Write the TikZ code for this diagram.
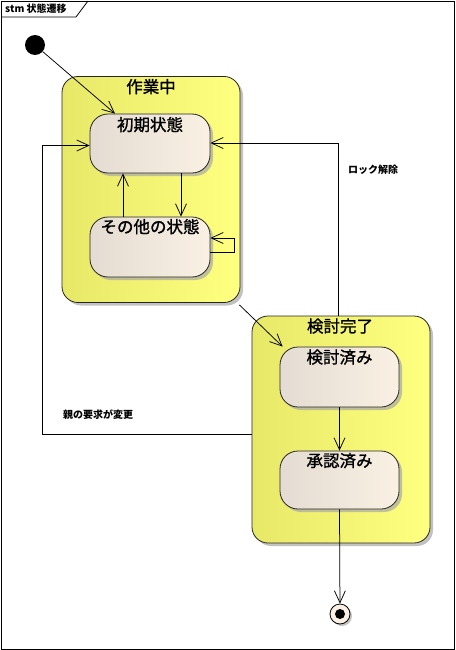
\documentclass[tikz,border=0pt]{standalone}
\usepackage{fontspec}
\setmainfont{Noto Sans CJK JP}
\newfontfamily\heavyjp[FakeBold=1.2]{Noto Sans CJK JP}
\usetikzlibrary{arrows.meta,shadows,calc}
\definecolor{ylL}{HTML}{E8E868}
\definecolor{ylR}{HTML}{FFFF80}
\definecolor{stL}{HTML}{E4DCD2}
\definecolor{stR}{HTML}{FAF1E4}
\definecolor{shd}{HTML}{A8A8A8}
\tikzset{
  comp/.style={draw=black!85, line width=0.8pt, rounded corners=16pt,
    left color=ylL, middle color=ylR, right color=ylR,
    drop shadow={shadow xshift=3pt, shadow yshift=-3pt, fill=shd, opacity=0.7},
    inner sep=0pt},
  stbox/.style={draw=black!85, line width=0.8pt, rounded corners=18pt,
    left color=stL, middle color=stR, right color=stR,
    drop shadow={shadow xshift=3pt, shadow yshift=-3pt, fill=shd, opacity=0.7},
    inner sep=0pt, minimum width=120pt, minimum height=59pt},
  ttl/.style={font=\heavyjp\fontsize{16.5}{18}\selectfont, inner sep=0pt},
  lbl/.style={font=\fontsize{10}{12}\selectfont\bfseries, inner sep=0pt},
  tr/.style={line width=0.75pt, -{Straight Barb[length=12pt,width=11pt,line width=0.75pt]}},
}
\begin{document}
\begin{tikzpicture}[x=1pt,y=-1pt]
\useasboundingbox (0,0) rectangle (455,650);
% frame
\draw[line width=0.8pt] (1,1) rectangle (454,649);
\draw[line width=0.8pt] (1,17) -- (76,17) -- (88,1);
\node[lbl, anchor=west] (frametitle) at (5,9) {stm 状態遷移};

% composite states
\node[comp, minimum width=178pt, minimum height=226pt] (c1) at (151,189.5) {};
\node[ttl] (c1t) at ($(c1.north)+(0,10.5)$) {作業中};
\node[comp, minimum width=178pt, minimum height=227pt] (c2) at (341,429.5) {};
\node[ttl] (c2t) at ($(c2.north)+(-1,10.5)$) {検討完了};

% simple states
\node[stbox] (s1) at (150,143.5) {};
\node[ttl] (s1t) at ($(s1.north)+(0,11)$) {初期状態};
\node[stbox, minimum height=60pt] (s2) at (150,247) {};
\node[ttl] (s2t) at ($(s2.north)+(0,10)$) {その他の状態};
\node[stbox, minimum width=119pt, minimum height=60pt] (s3) at (339.5,377) {};
\node[ttl] (s3t) at ($(s3.north)+(0,10.5)$) {検討済み};
\node[stbox, minimum width=119pt, minimum height=58pt] (s4) at (339.5,480) {};
\node[ttl] (s4t) at ($(s4.north)+(0,10)$) {承認済み};

% pseudo states
\node[circle, fill=black, minimum size=20pt, inner sep=0pt] (init) at (35,45) {};
\node[circle, draw=black, line width=0.8pt, fill=stR, minimum size=20pt, inner sep=0pt,
  drop shadow={shadow xshift=2pt, shadow yshift=-2pt, fill=shd, opacity=0.7}] (fin) at (340,614) {};
\node[circle, fill=black, minimum size=10pt, inner sep=0pt] (fincore) at (fin) {};

% transitions
\draw[tr] (init) -- ($(s1.north)+(-35,0)$);
\draw[tr] ($(s1.south)+(31,0)$) -- ($(s2.north)+(31,0)$);
\draw[tr] ($(s2.north)+(-27,0)$) -- ($(s1.south)+(-27,0)$);
\draw[tr] ($(s2.east)+(0,5)$) -- ++(24,0) -- ++(0,-14) -- ($(s2.east)+(0,-9)$);
\draw[tr] ($(c1.south east)+(-1,2)$) -- ($(s3.north west)+(3,0)$);
\draw[tr] (s3.south) -- (s4.north);
\draw[tr] (s4.south) -- (fin);
\draw[tr] ($(c2.north)+(-3,0)$) |- ($(s1.east)+(0,-0.5)$);
\node[lbl] (lk) at (373,170) {ロック解除};
\coordinate (p1) at (42,434);
\draw[tr] (c2.west |- p1) -- (p1) |- ($(s1.west)+(0,2)$);
\node[lbl, anchor=west] (oy) at (63,415) {親の要求が変更};
\end{tikzpicture}
\end{document}
